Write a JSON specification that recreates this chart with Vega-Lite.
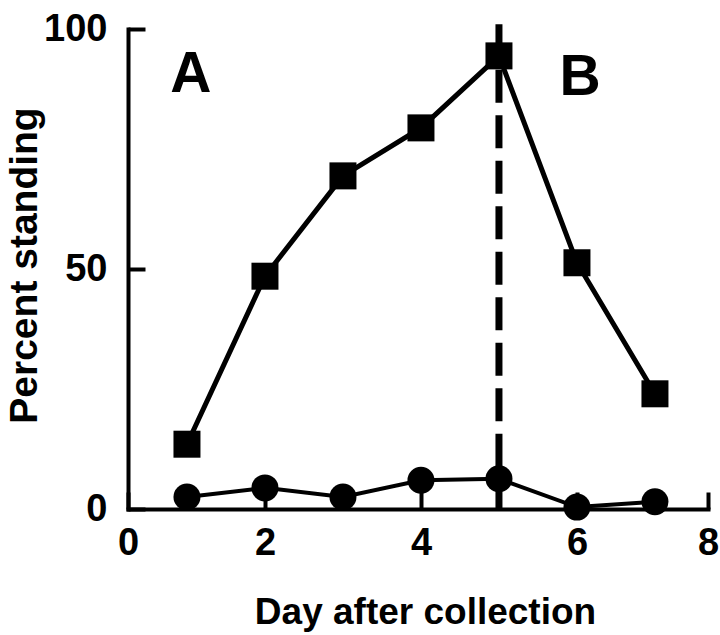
{
  "$schema": "https://vega.github.io/schema/vega-lite/v6.json",
  "autosize": {"type": "none"},
  "width": 580,
  "height": 480,
  "padding": {"left": 128, "top": 29, "right": 12, "bottom": 126},
  "background": "white",
  "config": {
    "view": {"stroke": null},
    "font": "Liberation Sans",
    "axis": {
      "grid": false,
      "domainColor": "black",
      "domainWidth": 4,
      "domainCap": "square",
      "tickColor": "black",
      "tickWidth": 4,
      "tickSize": -17,
      "labelColor": "black",
      "labelFont": "Liberation Sans",
      "labelFontWeight": "bold",
      "labelFontSize": 38,
      "titleColor": "black",
      "titleFont": "Liberation Sans",
      "titleFontWeight": "bold",
      "titleFontSize": 37
    }
  },
  "data": {
    "values": [
      {"day": 1, "series": "Square", "pct": 13.5},
      {"day": 2, "series": "Square", "pct": 48.5},
      {"day": 3, "series": "Square", "pct": 69.4},
      {"day": 4, "series": "Square", "pct": 79.4},
      {"day": 5, "series": "Square", "pct": 94.4},
      {"day": 6, "series": "Square", "pct": 51.3},
      {"day": 7, "series": "Square", "pct": 24.0},
      {"day": 1, "series": "Circle", "pct": 2.5},
      {"day": 2, "series": "Circle", "pct": 4.4},
      {"day": 3, "series": "Circle", "pct": 2.5},
      {"day": 4, "series": "Circle", "pct": 6.0},
      {"day": 5, "series": "Circle", "pct": 6.3},
      {"day": 6, "series": "Circle", "pct": 0.4},
      {"day": 7, "series": "Circle", "pct": 1.5}
    ]
  },
  "encoding": {
    "x": {
      "field": "day",
      "type": "quantitative",
      "scale": {"domain": [0.244, 7.68], "nice": false, "zero": false},
      "axis": {
        "values": [0.244, 2, 4, 6, 7.68],
        "labelExpr": "datum.value < 1 ? '0' : datum.value > 7 ? '8' : datum.label",
        "labelPadding": 32,
        "labelFlush": false,
        "title": "Day after collection",
        "titleX": 297,
        "titleY": 114,
        "titleBaseline": "alphabetic",
        "titleAlign": "center"
      }
    },
    "y": {
      "field": "pct",
      "type": "quantitative",
      "scale": {"domain": [0, 100], "nice": false},
      "axis": {
        "values": [0, 50, 100],
        "labelPadding": 38,
        "labelFlush": false,
        "title": "Percent standing",
        "titleFontSize": 39,
        "titleX": -92,
        "titleY": 236,
        "titleBaseline": "alphabetic",
        "titleAlign": "center",
        "titleAngle": -90
      }
    }
  },
  "layer": [
    {
      "data": {"values": [{"day": 5, "pct": 101, "pct2": 0}]},
      "mark": {"type": "rule", "color": "black", "strokeWidth": 7, "strokeDash": [33, 12.5]},
      "encoding": {
        "y2": {"field": "pct2"}
      }
    },
    {
      "mark": {"type": "line", "color": "black"},
      "encoding": {
        "detail": {"field": "series"},
        "strokeWidth": {
          "field": "series",
          "type": "nominal",
          "scale": {"domain": ["Square", "Circle"], "range": [5, 4]},
          "legend": null
        }
      }
    },
    {
      "mark": {"type": "point", "filled": true, "opacity": 1, "color": "black", "size": 729},
      "encoding": {
        "shape": {
          "field": "series",
          "type": "nominal",
          "scale": {"domain": ["Square", "Circle"], "range": ["square", "circle"]},
          "legend": null
        }
      }
    },
    {
      "data": {"values": [{"day": 1.05, "pct": 86.9, "label": "A"}, {"day": 6.04, "pct": 86.3, "label": "B"}]},
      "mark": {"type": "text", "color": "black", "font": "Liberation Sans", "fontWeight": "bold", "fontSize": 57, "align": "center", "baseline": "alphabetic"},
      "encoding": {
        "text": {"field": "label", "type": "nominal"}
      }
    }
  ]
}
